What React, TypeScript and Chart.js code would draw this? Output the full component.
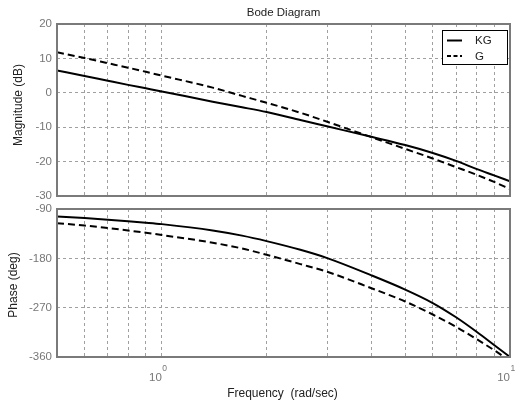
import React, { useEffect, useRef } from "react";
import { Chart, registerables } from "chart.js";

Chart.register(...registerables);

// ---- data ----
const freqs = [0.5, 0.6, 0.7, 0.8, 0.9, 1, 1.4, 1.7, 2, 2.5, 3, 4, 5, 6, 7, 8, 9, 10];
const magKG = [6.5, 4.9, 3.5, 2.3, 1.3, 0.4, -2.6, -4.2, -5.6, -7.9, -9.8, -12.8, -15.2, -17.5, -19.8, -22.1, -24.0, -25.7];
const magG = [11.8, 10.1, 8.6, 7.3, 6.1, 5.0, 1.5, -0.9, -2.9, -5.8, -8.5, -12.9, -16.3, -19.1, -21.6, -23.8, -25.9, -28.0];
const phaseKG = [-103.8, -106.6, -109.4, -112.2, -114.9, -117.6, -129.2, -138.6, -148.6, -164.5, -180, -211, -237, -261.5, -287.5, -313.5, -338, -360];
const phaseG = [-115.8, -120.2, -124.8, -129.2, -133.4, -137.5, -151.5, -162, -173.5, -190.5, -205, -234.5, -258.7, -282.5, -305, -327, -347.5, -367];
const gridFreqs = [0.5, 0.6, 0.7, 0.8, 0.9, 1, 2, 3, 4, 5, 6, 7, 8, 9, 10];
const magTicks = [-30, -20, -10, 0, 10, 20];
const phaseTicks = [-360, -270, -180, -90];
const xTickValues = [1, 10];
const xTickExponents = ["0", "1"];
const seriesNames = ["KG", "G"];
const titleText = "Bode Diagram";
const magLabel = "Magnitude (dB)";
const phaseLabel = "Phase (deg)";
const freqLabel = "Frequency  (rad/sec)";

// ---- styles ----
const FONT = '"Liberation Sans", Arial, Helvetica, sans-serif';
const GRID = "#a0a0a0";
const TICK = "#777777";
const FRAME = "#7a7a7a";
const TEXT = "#222222";
const SOLID_DASH: number[] = [];
const G_DASH = [7, 4];

const W = 515;
const H = 405;

const toPoints = (ys: number[]) => freqs.map((f, i) => ({ x: f, y: ys[i] }));

const framePlugin = {
  id: "frame",
  afterDraw(chart: any) {
    const { ctx, chartArea } = chart;
    const { left, top, right, bottom } = chartArea;
    ctx.save();
    ctx.strokeStyle = FRAME;
    ctx.lineWidth = 2;
    ctx.strokeRect(left, top, right - left, bottom - top);
    ctx.restore();
  },
};

function drawVertical(ctx: CanvasRenderingContext2D, text: string, x: number, y: number) {
  ctx.save();
  ctx.translate(x, y);
  ctx.rotate(-Math.PI / 2);
  ctx.textAlign = "center";
  ctx.textBaseline = "alphabetic";
  ctx.fillText(text, 0, 0);
  ctx.restore();
}

const topTextPlugin = {
  id: "topText",
  afterDraw(chart: any) {
    const { ctx, chartArea } = chart;
    const { left, top, right } = chartArea;
    const cx = (left + right) / 2;
    ctx.save();
    ctx.fillStyle = TEXT;
    ctx.font = `11.5px ${FONT}`;
    ctx.textAlign = "center";
    ctx.textBaseline = "alphabetic";
    ctx.fillText(titleText, cx, 15.5);
    ctx.font = `12px ${FONT}`;
    drawVertical(ctx, magLabel, 22.3, 105);

    // legend
    const bw = 66;
    const bh = 35;
    const bx = right - 2 - bw;
    const by = top + 6;
    ctx.fillStyle = "#ffffff";
    ctx.fillRect(bx, by, bw, bh);
    ctx.strokeStyle = "#000000";
    ctx.lineWidth = 1;
    ctx.strokeRect(bx + 0.5, by + 0.5, bw - 1, bh - 1);
    const rows = [by + 10.5, by + 26];
    const dashes = [SOLID_DASH, [4, 2.5]];
    ctx.font = `11.5px ${FONT}`;
    ctx.textAlign = "left";
    ctx.textBaseline = "middle";
    seriesNames.forEach((name, i) => {
      ctx.beginPath();
      ctx.setLineDash(dashes[i]);
      ctx.lineWidth = 2;
      ctx.strokeStyle = "#000";
      ctx.moveTo(bx + 5, rows[i]);
      ctx.lineTo(bx + 20, rows[i]);
      ctx.stroke();
      ctx.setLineDash([]);
      ctx.fillStyle = TEXT;
      ctx.fillText(name, bx + 33, rows[i] + 0.5);
    });
    ctx.restore();
  },
};

const bottomTextPlugin = {
  id: "bottomText",
  afterDraw(chart: any) {
    const { ctx, chartArea, scales } = chart;
    const { left, right, bottom } = chartArea;
    const cx = (left + right) / 2;
    ctx.save();
    ctx.fillStyle = TEXT;
    ctx.font = `12px ${FONT}`;
    drawVertical(ctx, phaseLabel, 17.3, 285);
    ctx.textAlign = "center";
    ctx.textBaseline = "alphabetic";
    ctx.fillText(freqLabel, cx - 1, 397);

    ctx.fillStyle = TICK;
    xTickValues.forEach((v, i) => {
      const px = scales.x.getPixelForValue(v);
      ctx.font = `11.5px ${FONT}`;
      ctx.textAlign = "right";
      ctx.fillText("10", px, bottom + 24);
      ctx.font = `8.5px ${FONT}`;
      ctx.textAlign = "left";
      ctx.fillText(xTickExponents[i], px + 0.5, bottom + 14);
    });
    ctx.restore();
  },
};

function xScale() {
  return {
    type: "logarithmic" as const,
    min: 0.5,
    max: 10,
    afterBuildTicks: (s: any) => {
      s.ticks = gridFreqs.map((v) => ({ value: v }));
    },
    afterFit: (s: any) => {
      s.height = 0;
    },
    ticks: { display: false },
    grid: { color: GRID, lineWidth: 1, drawTicks: false },
    border: { display: false, dash: [3, 3] },
  };
}

function yScale(min: number, max: number, ticks: number[]) {
  return {
    type: "linear" as const,
    min,
    max,
    afterBuildTicks: (s: any) => {
      s.ticks = ticks.map((v) => ({ value: v }));
    },
    afterFit: (s: any) => {
      s.width = 57;
    },
    ticks: {
      color: TICK,
      font: { family: FONT, size: 11.5 },
      padding: 5,
      callback: (v: any) => String(v),
    },
    grid: { color: GRID, lineWidth: 1, drawTicks: false },
    border: { display: false, dash: [3, 3] },
  };
}

function lineDataset(label: string, ys: number[], dash: number[]) {
  return {
    label,
    data: toPoints(ys),
    borderColor: "#000000",
    backgroundColor: "#000000",
    borderWidth: 2,
    borderDash: dash,
    pointRadius: 0,
    fill: false,
    cubicInterpolationMode: "monotone" as const,
  };
}

export default function App() {
  const topRef = useRef<HTMLCanvasElement | null>(null);
  const botRef = useRef<HTMLCanvasElement | null>(null);

  useEffect(() => {
    document.body.style.margin = "0";
    const common = {
      animation: false as const,
      responsive: false,
      events: [] as any[],
      plugins: {
        legend: { display: false },
        tooltip: { enabled: false },
        title: { display: false },
      },
    };
    const top = new Chart(topRef.current as HTMLCanvasElement, {
      type: "line",
      data: {
        datasets: [
          lineDataset(seriesNames[0], magKG, SOLID_DASH),
          lineDataset(seriesNames[1], magG, G_DASH),
        ],
      },
      options: {
        ...common,
        layout: { padding: { left: 0, right: 5, top: 24, bottom: H - 196 } },
        scales: { x: xScale(), y: yScale(-30, 20, magTicks) },
      } as any,
      plugins: [framePlugin, topTextPlugin],
    });
    const bot = new Chart(botRef.current as HTMLCanvasElement, {
      type: "line",
      data: {
        datasets: [
          lineDataset(seriesNames[0], phaseKG, SOLID_DASH),
          lineDataset(seriesNames[1], phaseG, G_DASH),
        ],
      },
      options: {
        ...common,
        layout: { padding: { left: 0, right: 5, top: 209, bottom: H - 357 } },
        scales: { x: xScale(), y: yScale(-360, -90, phaseTicks) },
      } as any,
      plugins: [framePlugin, bottomTextPlugin],
    });
    return () => {
      top.destroy();
      bot.destroy();
    };
  }, []);

  const canvasStyle: React.CSSProperties = {
    position: "absolute",
    left: 0,
    top: 0,
    width: W,
    height: H,
    display: "block",
  };

  return (
    <div
      style={{
        position: "fixed",
        left: 0,
        top: 0,
        width: W,
        height: H,
        background: "#ffffff",
        overflow: "hidden",
      }}
    >
      <canvas ref={botRef} width={W} height={H} style={canvasStyle} />
      <canvas ref={topRef} width={W} height={H} style={canvasStyle} />
    </div>
  );
}
